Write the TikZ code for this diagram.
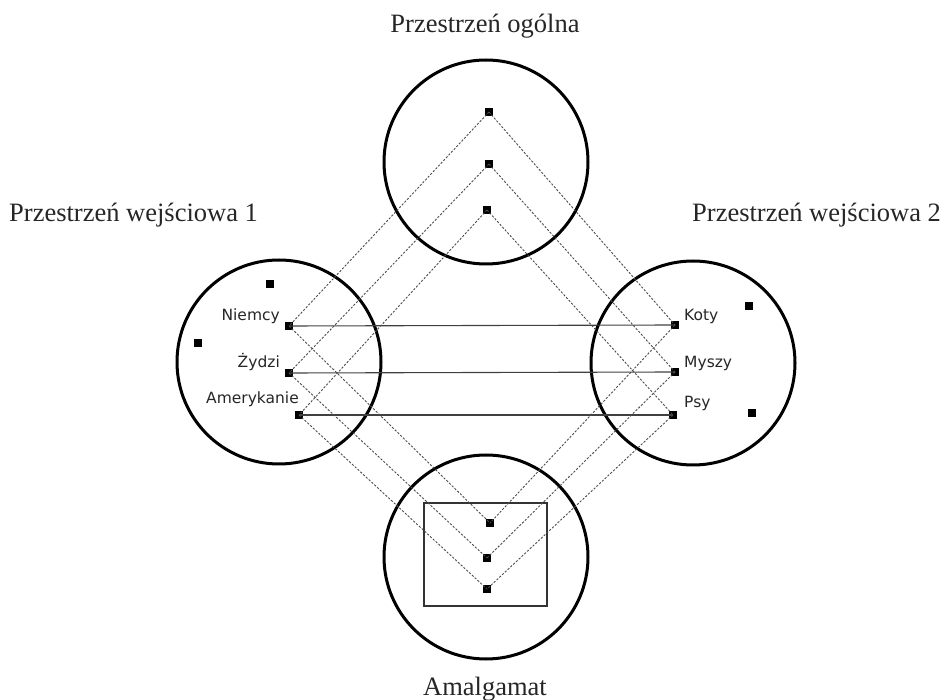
\documentclass[tikz,border=0pt]{standalone}
\usepackage{fontspec}
\setmainfont{Liberation Serif}
\newfontfamily\labelfont{DejaVu Sans}
\begin{document}
\begin{tikzpicture}[x=1pt,y=-1pt,
  space/.style={circle,draw=black,line width=3pt,minimum size=204pt,inner sep=0pt},
  elem/.style={rectangle,fill=black,minimum size=8.5pt,inner sep=0pt},
  link/.style={draw=black!70,line width=0.9pt,dash pattern=on 2.2pt off 1.6pt},
  match/.style={draw=black!75,line width=1.1pt},
  title/.style={font=\fontsize{26.5}{30}\selectfont,text=black!85,inner sep=0pt},
  elabel/.style={font=\labelfont\fontsize{15.5}{17}\selectfont,text=black!85,inner sep=0pt}]
\useasboundingbox (0,0) rectangle (946,700);

% the four mental spaces
\node[space] (generic) at (486,162) {};
\node[space] (input1)  at (279,362) {};
\node[space] (input2)  at (693,363) {};
\node[space] (blend)   at (486,557) {};

% emergent structure frame inside the blend
\node[draw=black!80,line width=1.4pt,minimum width=123pt,minimum height=103pt,inner sep=0pt] (frame) at (485.5,554.5) {};

% titles
\node[title,anchor=base] (tg) at (485,33) {Przestrzeń ogólna};
\node[title,anchor=base west] (t1) at (9,222) {Przestrzeń wejściowa 1};
\node[title,anchor=base west] (t2) at (692,222) {Przestrzeń wejściowa 2};
\node[title,anchor=base] (tb) at (485,695) {Amalgamat};

% generic space elements
\node[elem] (g1) at (489,112) {};
\node[elem] (g2) at (489,164) {};
\node[elem] (g3) at (487,210) {};

% input space 1 elements
\node[elem] (a0) at (270,284) {};
\node[elem] (a4) at (198,343) {};
\node[elem] (a1) at (289,326) {};
\node[elem] (a2) at (289,373) {};
\node[elem] (a3) at (299,415) {};

% input space 2 elements
\node[elem] (b0) at (749,306) {};
\node[elem] (b4) at (752,413) {};
\node[elem] (b1) at (675,325) {};
\node[elem] (b2) at (675,372) {};
\node[elem] (b3) at (673,415) {};

% blended elements
\node[elem] (c1) at (490,523) {};
\node[elem] (c2) at (487,558) {};
\node[elem] (c3) at (487,589) {};

% element labels
\node[elabel,anchor=base east] (l1) at (280,321) {Niemcy};
\node[elabel,anchor=base east] (l2) at (280,368) {Żydzi};
\node[elabel,anchor=base east] (l3) at (299,404) {Amerykanie};
\node[elabel,anchor=base west] (r1) at (684,321) {Koty};
\node[elabel,anchor=base west] (r2) at (684,368) {Myszy};
\node[elabel,anchor=base west] (r3) at (684,408) {Psy};

% cross-space mapping
\draw[match] (a1.center) -- (b1.center);
\draw[match] (a2.center) -- (b2.center);
\draw[match] (a3.center) -- (b3.center);

% projections from the generic space and into the blend
\foreach \i in {1,2,3}{
  \draw[link] (g\i.center) -- (a\i.center);
  \draw[link] (g\i.center) -- (b\i.center);
  \draw[link] (a\i.center) -- (c\i.center);
  \draw[link] (b\i.center) -- (c\i.center);
}
\end{tikzpicture}
\end{document}
